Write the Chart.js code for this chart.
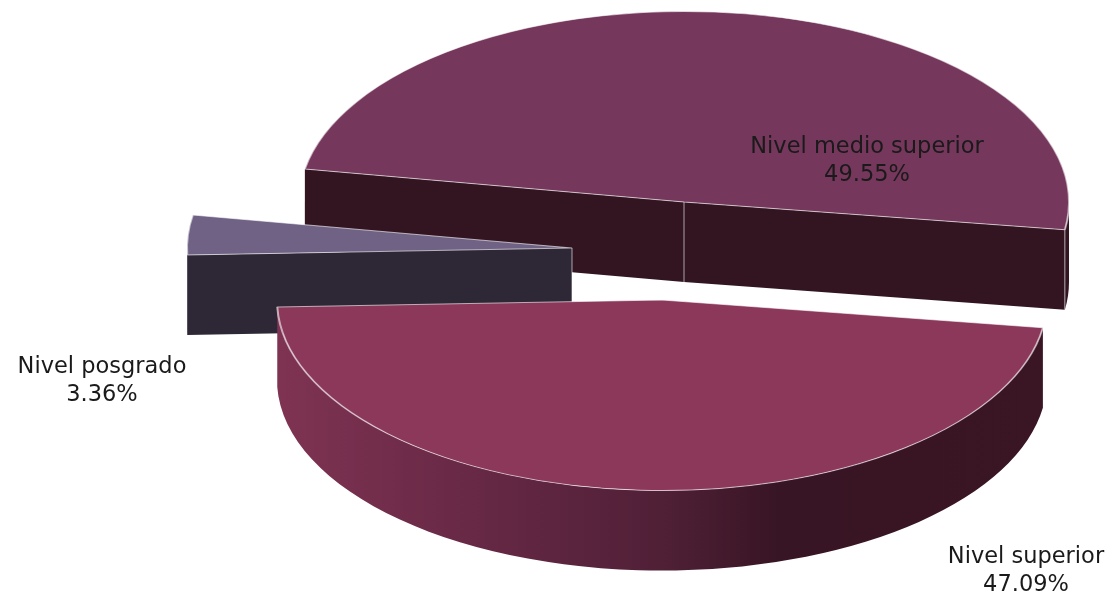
<!DOCTYPE html>
<html lang="es">
<head>
<meta charset="utf-8">
<title>Nivel de estudios</title>
<style>
    html, body { margin: 0; padding: 0; background: #fff; }
    canvas { display: block; }
</style>
<script src="https://cdn.jsdelivr.net/npm/chart.js@4"></script>
</head>
<body>
<canvas id="pieChart" width="1108" height="597"></canvas>
<script>
// ===== Datos =====
const categorias = ['Nivel medio superior', 'Nivel superior', 'Nivel posgrado'];
const valores = [49.55, 47.09, 3.36];

// ===== Estilo =====
const coloresCara = ['#75375b', '#8b385b', '#6f6285'];
const coloresPared = ['#321521', null, '#2e2735'];
const separacion = [{ dx: 20, dy: -53 }, { dx: -2, dy: 45 }, { dx: -92, dy: -7 }];
const ordenDibujo = [0, 2, 1];
const posEtiquetas = [[867, 147], [1026, 557], [102, 367]];
const INCLINACION = 0.495;
const GROSOR = 80;
const COLOR_BORDE = 'rgba(255,255,255,0.6)';

// ===== Pared curva visible (mitad frontal del sector) =====
function dibujarParedCurva(ctx, arc, i, cx, cy) {
    const r = arc.outerRadius;
    for (let k = 0; k < 3; k++) {
        const a1 = Math.max(arc.startAngle, k * 2 * Math.PI);
        const a2 = Math.min(arc.endAngle, k * 2 * Math.PI + Math.PI);
        if (a2 <= a1) continue;

        ctx.beginPath();
        ctx.ellipse(cx, cy, r, r * INCLINACION, 0, a1, a2);
        ctx.ellipse(cx, cy + GROSOR, r, r * INCLINACION, 0, a2, a1, true);
        ctx.closePath();

        if (coloresPared[i]) {
            ctx.fillStyle = coloresPared[i];
        } else {
            const grad = ctx.createLinearGradient(cx - r, 0, cx + r, 0);
            grad.addColorStop(0, '#7f3353');
            grad.addColorStop(0.35, '#5e2540');
            grad.addColorStop(0.5, '#502037');
            grad.addColorStop(0.65, '#381524');
            grad.addColorStop(1, '#3a1524');
            ctx.fillStyle = grad;
        }
        ctx.fill();
    }
}

// ===== Paredes de los cortes (solo las que miran al frente) =====
function dibujarCortes(ctx, arc, i, cx, cy) {
    const r = arc.outerRadius;
    const bordes = [
        { a: arc.startAngle, visible: Math.cos(arc.startAngle) < 0, fin: false },
        { a: arc.endAngle, visible: Math.cos(arc.endAngle) > 0, fin: true }
    ];

    bordes.forEach(b => {
        if (!b.visible) return;
        const x = cx + Math.cos(b.a) * r;
        const y = cy + Math.sin(b.a) * r * INCLINACION;

        ctx.beginPath();
        ctx.moveTo(cx, cy);
        ctx.lineTo(x, y);
        ctx.lineTo(x, y + GROSOR);
        ctx.lineTo(cx, cy + GROSOR);
        ctx.closePath();
        ctx.fillStyle = coloresPared[i];
        ctx.fill();

        if (b.fin) {
            ctx.beginPath();
            ctx.moveTo(x, y);
            ctx.lineTo(x, y + GROSOR);
            ctx.strokeStyle = COLOR_BORDE;
            ctx.lineWidth = 1;
            ctx.stroke();
        }
    });

    if (bordes.some(b => b.visible)) {
        ctx.beginPath();
        ctx.moveTo(cx, cy);
        ctx.lineTo(cx, cy + GROSOR);
        ctx.strokeStyle = COLOR_BORDE;
        ctx.lineWidth = 1;
        ctx.stroke();
    }
}

// ===== Plugin: pastel 3D separado =====
const pastel3d = {
    id: 'pastel3d',
    beforeDatasetsDraw(chart) {
        const ctx = chart.ctx;
        const arcos = chart.getDatasetMeta(0).data;

        ordenDibujo.forEach(i => {
            const arc = arcos[i];
            const s = separacion[i];
            const cx = arc.x + s.dx;
            const cy = arc.y + s.dy;

            dibujarParedCurva(ctx, arc, i, cx, cy);
            dibujarCortes(ctx, arc, i, cx, cy);

            // la cara superior la dibuja el propio arco, aplastado
            ctx.save();
            ctx.translate(s.dx, s.dy + arc.y * (1 - INCLINACION));
            ctx.scale(1, INCLINACION);
            arc.draw(ctx);
            ctx.restore();
        });
        return false;
    },
    afterDraw(chart) {
        const ctx = chart.ctx;
        ctx.save();
        ctx.font = '22.5px "DejaVu Sans"';
        ctx.fillStyle = '#1a1a1a';
        ctx.textAlign = 'center';
        ctx.textBaseline = 'middle';
        categorias.forEach((cat, i) => {
            const [x, y] = posEtiquetas[i];
            ctx.fillText(cat, x, y);
            ctx.fillText(valores[i].toFixed(2) + '%', x, y + 28);
        });
        ctx.restore();
    }
};

// ===== Gráfico =====
new Chart(document.getElementById('pieChart').getContext('2d'), {
    type: 'pie',
    data: {
        labels: categorias,
        datasets: [{
            data: valores,
            backgroundColor: coloresCara,
            borderColor: COLOR_BORDE,
            borderWidth: 2
        }]
    },
    options: {
        responsive: false,
        animation: false,
        rotation: 280,
        radius: 385,
        layout: { padding: { left: 220, bottom: 87 } },
        plugins: {
            legend: { display: false },
            tooltip: { enabled: false }
        }
    },
    plugins: [pastel3d]
});
</script>
</body>
</html>
